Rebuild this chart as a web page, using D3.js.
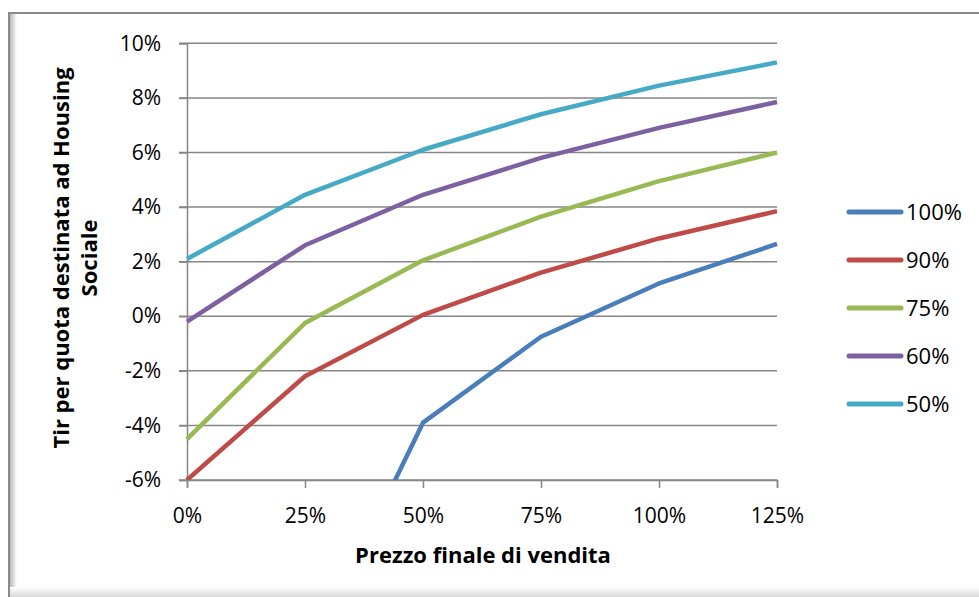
<!DOCTYPE html>
<html>
<head>
<meta charset="utf-8">
<script src="https://cdn.jsdelivr.net/npm/d3@7"></script>
<style>
  html, body { margin: 0; padding: 0; background: #fff; }
  svg { display: block; }
  text { font-family: "Open Sans", Lato, sans-serif; fill: #000; }
</style>
</head>
<body>
<svg id="chart" width="979" height="597"></svg>
<script>
// Selling price levels (x axis categories)
const prices = [0, 25, 50, 75, 100, 125];
const priceLabels = ["0%", "25%", "50%", "75%", "100%", "125%"];

// IRR (%) per share of social housing, one array per series
const seriesNames = ["100%", "90%", "75%", "60%", "50%"];
const irr100 = [null, -12.8, -3.9, -0.75, 1.2, 2.65];
const irr90 = [-6.0, -2.2, 0.05, 1.6, 2.85, 3.85];
const irr75 = [-4.5, -0.25, 2.05, 3.65, 4.95, 6.0];
const irr60 = [-0.2, 2.6, 4.45, 5.8, 6.9, 7.85];
const irr50 = [2.1, 4.45, 6.1, 7.4, 8.45, 9.3];
const seriesColors = ["#4A7EBB", "#BE4B48", "#98B954", "#7D60A0", "#46AAC5"];

// Y axis ticks
const yTicks = [-6, -4, -2, 0, 2, 4, 6, 8, 10];

const allSeries = [irr100, irr90, irr75, irr60, irr50];

const svg = d3.select("#chart");

// Chart frame: top/left border with soft shadow
const defs = svg.append("defs");
const gl = defs.append("linearGradient").attr("id", "shadowLeft").attr("x1", 0).attr("x2", 1).attr("y1", 0).attr("y2", 0);
gl.append("stop").attr("offset", 0).attr("stop-color", "#b8b8b8");
gl.append("stop").attr("offset", 1).attr("stop-color", "#ffffff");
const gb = defs.append("linearGradient").attr("id", "shadowBottom").attr("x1", 0).attr("x2", 0).attr("y1", 0).attr("y2", 1);
gb.append("stop").attr("offset", 0).attr("stop-color", "#ffffff");
gb.append("stop").attr("offset", 1).attr("stop-color", "#d8d8d8");

svg.append("rect").attr("x", 10).attr("y", 14).attr("width", 7).attr("height", 583).attr("fill", "url(#shadowLeft)");
svg.append("rect").attr("x", 10).attr("y", 587).attr("width", 969).attr("height", 10).attr("fill", "url(#shadowBottom)");
svg.append("line").attr("x1", 9).attr("x2", 979).attr("y1", 13).attr("y2", 13).attr("stroke", "#8a8a8a").attr("stroke-width", 2);
svg.append("line").attr("x1", 9).attr("x2", 9).attr("y1", 12).attr("y2", 597).attr("stroke", "#8a8a8a").attr("stroke-width", 2);

// Scales
const x = d3.scaleLinear().domain([0, 125]).range([187, 777]);
const y = d3.scaleLinear().domain([-6, 10]).range([480, 43.3]);

// Horizontal gridlines
svg.append("g")
  .selectAll("line")
  .data(yTicks)
  .join("line")
  .attr("x1", x(0) - 8).attr("x2", x(125))
  .attr("y1", d => y(d)).attr("y2", d => y(d))
  .attr("stroke", "#868686").attr("stroke-width", 1.5);

// Y axis
const yAxis = svg.append("g")
  .attr("transform", `translate(${x(0)},0)`)
  .call(d3.axisLeft(y).tickValues(yTicks).tickFormat(d => d + "%").tickSize(8).tickPadding(18));
yAxis.select(".domain").attr("stroke", "#868686").attr("stroke-width", 1.5);
yAxis.selectAll(".tick line").attr("stroke", "#868686").attr("stroke-width", 1.5);
yAxis.selectAll(".tick text").attr("font-size", 21).attr("font-family", "'Open Sans', sans-serif").attr("fill", "#000");

// X axis
const xAxis = svg.append("g")
  .attr("transform", `translate(0,${y(-6)})`)
  .call(d3.axisBottom(x).tickValues(prices).tickFormat((d, i) => priceLabels[i]).tickSize(8).tickPadding(20));
xAxis.select(".domain").attr("stroke", "#868686").attr("stroke-width", 1.5);
xAxis.selectAll(".tick line").attr("stroke", "#868686").attr("stroke-width", 1.5);
xAxis.selectAll(".tick text").attr("font-size", 21).attr("font-family", "'Open Sans', sans-serif").attr("fill", "#000");

// Clip lines to the plot area
defs.append("clipPath").attr("id", "plotClip")
  .append("rect").attr("x", x(0) - 3).attr("y", y(10) - 10).attr("width", x(125) - x(0) + 6).attr("height", y(-6) - y(10) + 10);

const line = d3.line()
  .defined(d => d.v !== null)
  .x(d => x(d.p))
  .y(d => y(d.v));

svg.append("g").attr("clip-path", "url(#plotClip)")
  .selectAll("path")
  .data(allSeries.map((vals, i) => ({ name: seriesNames[i], color: seriesColors[i], pts: vals.map((v, j) => ({ p: prices[j], v })) })))
  .join("path")
  .attr("d", d => line(d.pts))
  .attr("fill", "none")
  .attr("stroke", d => d.color)
  .attr("stroke-width", 4.5)
  .attr("stroke-linejoin", "round");

// Legend
const legend = svg.append("g");
seriesNames.forEach((name, i) => {
  const ly = 212 + i * 48;
  legend.append("line")
    .attr("x1", 849).attr("x2", 901).attr("y1", ly).attr("y2", ly)
    .attr("stroke", seriesColors[i]).attr("stroke-width", 5).attr("stroke-linecap", "round");
  legend.append("text")
    .attr("x", 906).attr("y", ly).attr("dy", "0.35em")
    .attr("font-size", 22)
    .text(name);
});

// Axis titles
svg.append("text")
  .attr("x", 483).attr("y", 563)
  .attr("text-anchor", "middle")
  .attr("font-size", 22).attr("font-weight", "bold")
  .text("Prezzo finale di vendita");

const yTitle = svg.append("text")
  .attr("transform", "translate(69,258) rotate(-90)")
  .attr("text-anchor", "middle")
  .attr("font-size", 22).attr("font-weight", "bold");
yTitle.append("tspan").attr("x", 0).attr("dy", 0).text("Tir per quota destinata ad Housing");
yTitle.append("tspan").attr("x", 0).attr("dy", 28).text("Sociale");
</script>
</body>
</html>
